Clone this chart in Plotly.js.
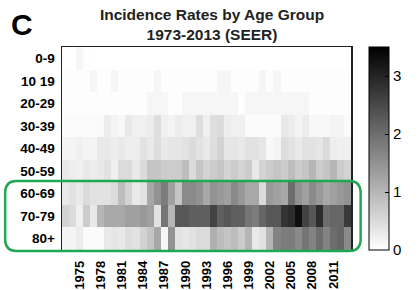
<!DOCTYPE html>
<html>
<head>
<meta charset="utf-8">
<script src="https://cdn.plot.ly/plotly-3.0.1.min.js"></script>
<style>html,body{margin:0;padding:0;background:#fff;}#chart{width:419px;height:290px;}</style>
</head>
<body>
<div id="chart"></div>
<script>
// ---- data ----
var years = [1973,1974,1975,1976,1977,1978,1979,1980,1981,1982,1983,1984,1985,1986,1987,1988,1989,1990,1991,1992,1993,1994,1995,1996,1997,1998,1999,2000,2001,2002,2003,2004,2005,2006,2007,2008,2009,2010,2011,2012,2013];
var ageGroups = ["0-9","10 19","20-29","30-39","40-49","50-59","60-69","70-79","80+"];
var yearTicks = [1975,1978,1981,1984,1987,1990,1993,1996,1999,2002,2005,2008,2011];
var colorTicks = [0,1,2,3];

var r0_9   = [0,0,0.12,0.02,0,0,0,0,0,0,0,0,0,0,0,0,0,0,0,0,0,0,0,0,0,0,0,0,0,0,0,0,0,0,0,0,0,0,0,0,0];
var r10_19 = [0.03,0.03,0.03,0.03,0.12,0.03,0.03,0.12,0.03,0.03,0.03,0.03,0.03,0.12,0.03,0.03,0.03,0.03,0.03,0.03,0.03,0.03,0.12,0.12,0.03,0.03,0.03,0.03,0.12,0.03,0.12,0.03,0.03,0.03,0.03,0.03,0.03,0.03,0.03,0.03,0.03];
var r20_29 = [0.03,0.03,0.03,0.03,0.03,0.03,0.03,0.03,0.03,0.03,0.03,0.03,0.12,0.12,0.12,0.03,0.03,0.12,0.12,0.12,0.12,0.12,0.12,0.12,0.12,0.03,0.12,0.12,0.12,0.12,0.12,0.12,0.12,0.12,0.12,0.03,0.03,0.03,0.03,0.03,0.03];
var r30_39 = [0.05,0.05,0.05,0.05,0.05,0.08,0.25,0.15,0.1,0.3,0.2,0.2,0.25,0.45,0.2,0.15,0.25,0.2,0.2,0.45,0.2,0.45,0.5,0.25,0.2,0.2,0.05,0.05,0.05,0.05,0.05,0.3,0.25,0.15,0.25,0.1,0.1,0.1,0.15,0.15,0.05];
var r40_49 = [0.15,0.15,0.2,0.15,0.15,0.3,0.3,0.25,0.3,0.25,0.25,0.4,0.3,0.45,0.3,0.35,0.35,0.4,0.5,0.4,0.3,0.45,0.6,0.35,0.35,0.3,0.4,0.4,0.35,0.1,0.15,0.45,0.4,0.3,0.4,0.4,0.35,0.5,0.25,0.2,0.2];
var r50_59 = [0.3,0.25,0.2,0.3,0.25,0.3,0.4,0.2,0.5,0.5,0.3,0.5,0.8,0.8,0.7,0.7,0.7,0.9,0.5,0.8,0.6,0.7,0.8,0.6,0.7,0.6,0.7,0.3,0.6,0.7,0.8,0.7,0.9,0.7,0.8,1.0,0.7,0.8,1.0,0.7,0.6];
var r60_69 = [0.3,0.4,0.3,0.5,0.4,0.4,0.4,0.5,0.9,0.6,0.3,0.4,1.2,1.5,1.8,1.3,0.8,1.6,1.6,1.5,1.2,1.5,1.4,1.3,1.6,1.4,1.2,1.2,0.5,1.4,1.3,1.2,2.0,1.5,1.3,1.6,1.4,1.2,1.3,1.4,1.5];
var r70_79 = [0.6,0.5,0.2,0.7,0.3,1.0,1.2,1.2,1.2,1.3,1.3,1.4,1.3,0.4,1.9,1.0,2.3,2.3,2.2,2.2,2.2,2.6,2.2,2.3,2.2,2.2,1.9,1.8,2.1,2.3,2.3,2.8,2.9,3.3,2.6,2.3,2.9,2.0,2.1,2.1,2.7];
var r80    = [0.15,0.15,0.25,0.05,0.05,0.05,0.3,0.35,0.3,0.45,0.4,0.6,0.8,1.2,0.1,1.5,0.4,0.35,0.4,0.5,0.5,1.1,0.9,0.8,0.9,0.7,1.0,0.3,0.4,1.0,1.7,1.8,1.8,1.6,1.9,1.7,2.0,1.7,2.0,2.1,1.6];

// ---- chart ----
var z = [r0_9, r10_19, r20_29, r30_39, r40_49, r50_59, r60_69, r70_79, r80];

var trace = {
  type: 'heatmap',
  x: years,
  y: ageGroups,
  z: z,
  zmin: 0,
  zmax: 3.5,
  colorscale: [[0,'#ffffff'],[1,'#000000']],
  showscale: true,
  hoverinfo: 'skip',
  colorbar: {
    x: 1.0633, xanchor: 'left', xpad: 0,
    y: 0.5, yanchor: 'middle', ypad: 0,
    len: 1, lenmode: 'fraction',
    thickness: 20, thicknessmode: 'pixels',
    outlinewidth: 1, outlinecolor: '#000',
    tickvals: colorTicks,
    ticks: 'inside', ticklen: 4, tickcolor: '#000',
    tickfont: {family: 'Liberation Sans, Arial, sans-serif', size: 15, color: '#000'}
  }
};

// plot area pixel geometry for the annotation box
var L = 62, R = 362, T = 47, B = 250;
function px(x){ return (x - L) / (R - L); }
function py(y){ return 1 - (y - T) / (B - T); }
var bx0 = 3, bx1 = 372, by0 = 181, by1 = 251, rad = 12;
var path = 'M ' + px(bx0 + rad) + ',' + py(by0) +
  ' L ' + px(bx1 - rad) + ',' + py(by0) +
  ' Q ' + px(bx1) + ',' + py(by0) + ' ' + px(bx1) + ',' + py(by0 + rad) +
  ' L ' + px(bx1) + ',' + py(by1 - rad) +
  ' Q ' + px(bx1) + ',' + py(by1) + ' ' + px(bx1 - rad) + ',' + py(by1) +
  ' L ' + px(bx0 + rad) + ',' + py(by1) +
  ' Q ' + px(bx0) + ',' + py(by1) + ' ' + px(bx0) + ',' + py(by1 - rad) +
  ' L ' + px(bx0) + ',' + py(by0 + rad) +
  ' Q ' + px(bx0) + ',' + py(by0) + ' ' + px(bx0 + rad) + ',' + py(by0) + ' Z';

var font = 'Liberation Sans, Arial, sans-serif';
var layout = {
  width: 419, height: 290,
  margin: {l: L, r: 419 - R, t: T, b: 290 - B},
  paper_bgcolor: '#fff', plot_bgcolor: '#fff',
  font: {family: font, color: '#000'},
  title: {
    text: '<b>Incidence Rates by Age Group<br>1973-2013 (SEER)</b>',
    font: {family: font, size: 15.5, color: '#222'},
    x: 0.506, xanchor: 'center', y: 1 - 20/290, yanchor: 'middle'
  },
  xaxis: {
    tickvals: yearTicks,
    ticktext: yearTicks.map(function(v){ return '<b>' + v + '</b>'; }),
    tickangle: -90,
    ticks: 'outside', ticklen: 4, tickcolor: 'rgba(0,0,0,0)',
    tickfont: {family: font, size: 13, color: '#000'},
    showgrid: false, zeroline: false,
    showline: true, linecolor: '#222', linewidth: 1.5, mirror: true,
    range: [1972.5, 2013.5]
  },
  yaxis: {
    type: 'category',
    autorange: 'reversed',
    tickvals: ageGroups,
    ticktext: ageGroups.map(function(v){ return '<b>' + v + '</b>'; }),
    ticks: 'outside', ticklen: 3, tickcolor: 'rgba(0,0,0,0)',
    tickfont: {family: font, size: 13.5, color: '#000'},
    showgrid: false, zeroline: false,
    showline: true, linecolor: '#222', linewidth: 1.5, mirror: true
  },
  shapes: [{
    type: 'path', xref: 'paper', yref: 'paper', path: path,
    line: {color: '#1fa84f', width: 2.5}, fillcolor: 'rgba(0,0,0,0)', layer: 'above'
  }],
  annotations: [{
    text: '<b>C</b>', xref: 'paper', yref: 'paper',
    x: px(7), y: py(6), xanchor: 'left', yanchor: 'top',
    showarrow: false, font: {family: font, size: 30, color: '#000'}
  }]
};

Plotly.newPlot('chart', [trace], layout, {displayModeBar: false, staticPlot: true});
</script>
</body>
</html>
